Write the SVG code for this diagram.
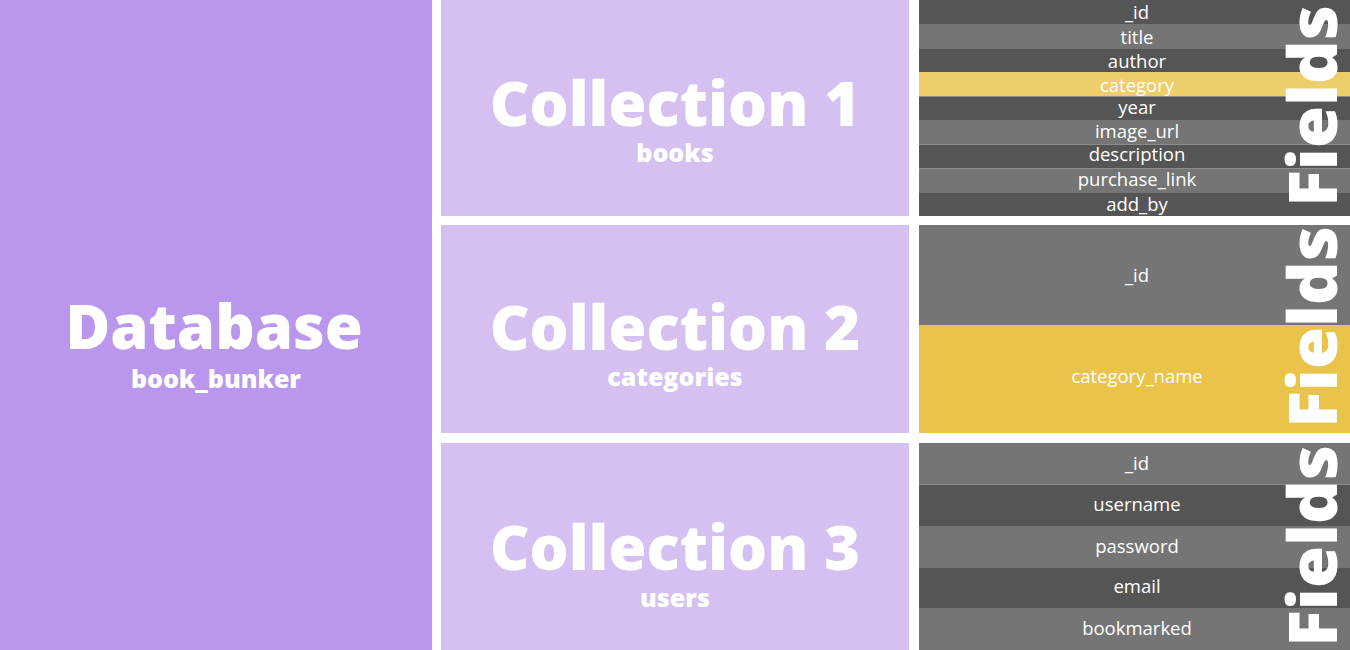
<svg xmlns="http://www.w3.org/2000/svg" width="1350" height="650" viewBox="0 0 1350 650">
<style>
.db{fill:#b997ec}
.col{fill:#d5c1f1}
.dk{fill:#555555}
.lt{fill:#757575}
.y1{fill:#eecd6b}
.y2{fill:#eac44a}
.big{font-family:"Open Sans","Liberation Sans",sans-serif;font-weight:800;font-size:61.5px;fill:#ffffff;text-anchor:middle}
.sub{font-family:"Open Sans","Liberation Sans",sans-serif;font-weight:800;font-size:25px;fill:#ffffff;text-anchor:middle}
.fld{font-family:"Open Sans","Liberation Sans",sans-serif;font-size:18.5px;fill:#ffffff;text-anchor:middle}
.vt{font-family:"Open Sans","Liberation Sans",sans-serif;font-weight:800;font-size:68px;fill:#ffffff;text-anchor:middle}
.sep{stroke:#8c8c8c;stroke-width:1}
</style>
<rect width="1350" height="650" fill="#ffffff"/>
<g id="database">
<rect class="db" x="0" y="0" width="432" height="650"/>
<text class="big" x="214" y="349">Database</text>
<text class="sub" x="216" y="388">book_bunker</text>
</g>
<g id="collection1">
<rect class="col" x="441" y="0" width="468" height="216"/>
<text class="big" x="675" y="126">Collection 1</text>
<text class="sub" x="675" y="162">books</text>
</g>
<g id="collection2">
<rect class="col" x="441" y="225" width="468" height="208"/>
<text class="big" x="675" y="350">Collection 2</text>
<text class="sub" x="675" y="386">categories</text>
</g>
<g id="collection3">
<rect class="col" x="441" y="443" width="468" height="207"/>
<text class="big" x="675" y="570">Collection 3</text>
<text class="sub" x="675" y="607">users</text>
</g>
<g id="fields1">
<rect class="dk" x="919" y="0" width="431" height="24"/>
<rect class="lt" x="919" y="24" width="431" height="25"/>
<rect class="dk" x="919" y="49" width="431" height="23"/>
<rect class="y1" x="919" y="72" width="431" height="24"/>
<rect class="dk" x="919" y="96" width="431" height="24"/>
<rect class="lt" x="919" y="120" width="431" height="24.5"/>
<rect class="dk" x="919" y="144.5" width="431" height="23.5"/>
<rect class="lt" x="919" y="168" width="431" height="25"/>
<rect class="dk" x="919" y="193" width="431" height="23"/>
<line class="sep" x1="919" y1="144.5" x2="1350" y2="144.5"/>
<line class="sep" x1="919" y1="168.5" x2="1350" y2="168.5"/>
<line class="sep" x1="919" y1="96.5" x2="1350" y2="96.5"/>
<text class="fld" x="1137" y="19">_id</text>
<text class="fld" x="1137" y="44">title</text>
<text class="fld" x="1137" y="68">author</text>
<text class="fld" x="1137" y="92">category</text>
<text class="fld" x="1137" y="114">year</text>
<text class="fld" x="1137" y="138">image_url</text>
<text class="fld" x="1137" y="161">description</text>
<text class="fld" x="1137" y="186">purchase_link</text>
<text class="fld" x="1137" y="211">add_by</text>
<text class="vt" transform="translate(1337 106) rotate(-90)">Fields</text>
</g>
<g id="fields2">
<rect class="lt" x="919" y="225" width="431" height="100"/>
<rect class="y2" x="919" y="325" width="431" height="108"/>
<text class="fld" x="1137" y="282">_id</text>
<text class="fld" x="1137" y="383">category_name</text>
<text class="vt" transform="translate(1337 327) rotate(-90)">Fields</text>
</g>
<g id="fields3">
<rect class="lt" x="919" y="443" width="431" height="42"/>
<rect class="dk" x="919" y="485" width="431" height="41"/>
<rect class="lt" x="919" y="526" width="431" height="42"/>
<rect class="dk" x="919" y="568" width="431" height="40"/>
<rect class="lt" x="919" y="608" width="431" height="42"/>
<line class="sep" x1="919" y1="484.5" x2="1350" y2="484.5"/>
<text class="fld" x="1137" y="470">_id</text>
<text class="fld" x="1137" y="511">username</text>
<text class="fld" x="1137" y="553">password</text>
<text class="fld" x="1137" y="593">email</text>
<text class="fld" x="1137" y="635">bookmarked</text>
<text class="vt" transform="translate(1337 546) rotate(-90)">Fields</text>
</g>
<g id="connectors"></g>
</svg>
